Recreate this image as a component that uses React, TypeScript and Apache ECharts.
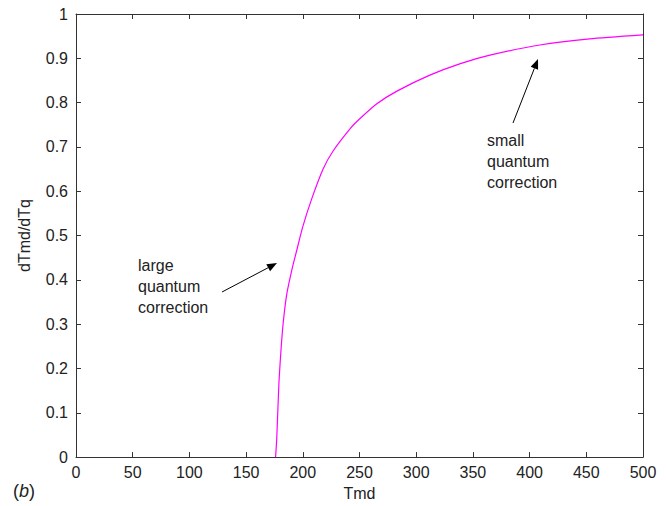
import React, { useEffect, useRef } from "react";
import * as echarts from "echarts";

const tmd: number[] = [176, 177, 179, 181, 183, 186, 191, 194, 200, 208, 218, 227, 242, 250, 265, 283, 312, 339, 365, 409, 453, 500];
const ratio: number[] = [0, 0.04, 0.17, 0.25, 0.31, 0.37, 0.43, 0.46, 0.52, 0.584, 0.651, 0.692, 0.742, 0.763, 0.797, 0.826, 0.862, 0.888, 0.907, 0.93, 0.944, 0.953];

const xName = "Tmd";
const yName = "dTmd/dTq";
const noteLarge = ["large", "quantum", "correction"];
const noteSmall = ["small", "quantum", "correction"];

const FONT = "'Liberation Sans', Arial, Helvetica, sans-serif";
const TXT = "#222";

export default function App() {
  const ref = useRef<HTMLDivElement>(null);
  useEffect(() => {
    if (!ref.current) return;
    const chart = echarts.init(ref.current, undefined, { renderer: "svg" });
    const axisCommon = {
      type: "value" as const,
      axisLine: { show: true, onZero: false, lineStyle: { color: "#333", width: 1 } },
      axisTick: { show: true, inside: true, length: 5, lineStyle: { color: "#333" } },
      splitLine: { show: false },
    };
    const data = tmd.map((t, i) => [t, ratio[i]]);
    chart.setOption({
      animation: false,
      backgroundColor: "#fff",
      textStyle: { fontFamily: FONT },
      grid: { left: 76, right: 24, top: 14, bottom: 45, containLabel: false },
      xAxis: [
        {
          ...axisCommon,
          position: "bottom",
          min: 0,
          max: 500,
          interval: 50,
          name: xName,
          nameLocation: "middle",
          nameGap: 27,
          nameTextStyle: { fontSize: 16, color: TXT, fontFamily: FONT },
          axisLabel: { fontSize: 16, color: TXT, margin: 7, fontFamily: FONT },
        },
        {
          ...axisCommon,
          position: "top",
          min: 0,
          max: 500,
          interval: 50,
          axisLabel: { show: false },
        },
      ],
      yAxis: [
        {
          ...axisCommon,
          position: "left",
          min: 0,
          max: 1,
          interval: 0.1,
          name: yName,
          nameLocation: "middle",
          nameGap: 44,
          nameTextStyle: { fontSize: 16, color: TXT, fontFamily: FONT },
          axisLabel: {
            fontSize: 16,
            color: TXT,
            margin: 8,
            fontFamily: FONT,
            formatter: (v: number) => (v === 0 ? "0" : v === 1 ? "1" : v.toFixed(1)),
          },
        },
        {
          ...axisCommon,
          position: "right",
          min: 0,
          max: 1,
          interval: 0.1,
          axisLabel: { show: false },
        },
      ],
      series: [
        {
          type: "line",
          data,
          smooth: 0.2,
          showSymbol: false,
          symbol: "none",
          lineStyle: { color: "#ff00ff", width: 1.2 },
          xAxisIndex: 0,
          yAxisIndex: 0,
        },
      ],
      graphic: [
        {
          type: "text",
          left: 138,
          top: 255,
          style: { text: noteLarge.join("\n"), fontSize: 16, lineHeight: 21, fill: TXT, fontFamily: FONT },
        },
        {
          type: "text",
          left: 487,
          top: 130,
          style: { text: noteSmall.join("\n"), fontSize: 16, lineHeight: 21, fill: TXT, fontFamily: FONT },
        },
        {
          type: "line",
          shape: { x1: 222, y1: 292, x2: 268.2, y2: 267.7 },
          style: { stroke: "#000", lineWidth: 1 },
        },
        {
          type: "polygon",
          shape: { points: [[277, 263], [270.1, 271.2], [266.3, 264.2]] },
          style: { fill: "#000" },
        },
        {
          type: "line",
          shape: { x1: 513, y1: 123, x2: 534.4, y2: 68.3 },
          style: { stroke: "#000", lineWidth: 1 },
        },
        {
          type: "polygon",
          shape: { points: [[538, 59], [538.1, 69.8], [530.7, 66.8]] },
          style: { fill: "#000" },
        },
        {
          type: "text",
          left: 13,
          top: 482,
          style: { text: "(", fontSize: 18, fill: TXT, fontFamily: FONT },
        },
        {
          type: "text",
          left: 19,
          top: 482,
          style: { text: "b", fontSize: 18, fontStyle: "italic", fill: TXT, fontFamily: FONT },
        },
        {
          type: "text",
          left: 29,
          top: 482,
          style: { text: ")", fontSize: 18, fill: TXT, fontFamily: FONT },
        },
      ],
    });
    return () => chart.dispose();
  }, []);
  return <div ref={ref} style={{ width: 667, height: 506, position: "absolute", left: 0, top: 0 }} />;
}
